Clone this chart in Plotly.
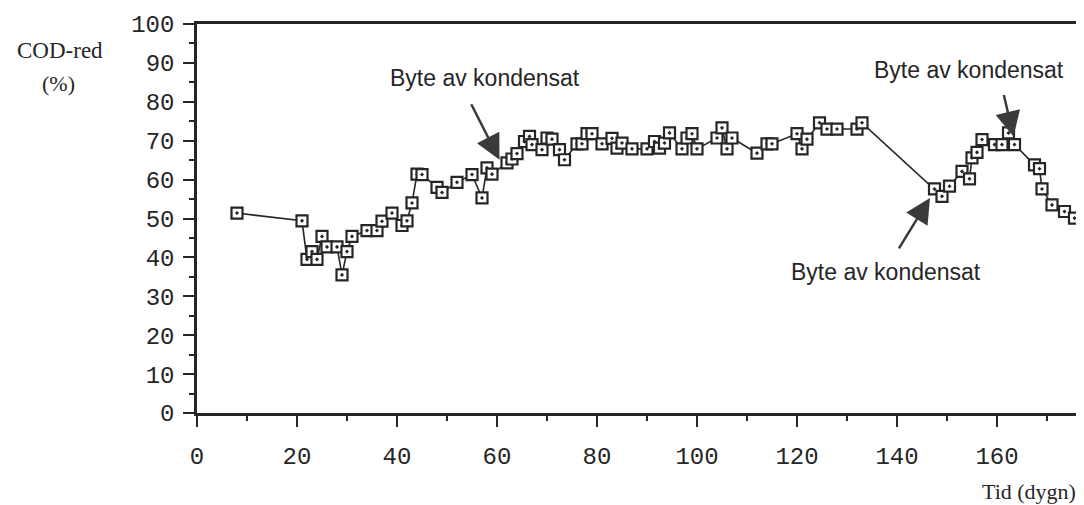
import plotly.graph_objects as go

# Data
days = [8, 21, 22, 23, 24, 25, 26, 28, 29, 30, 31, 34, 36, 37, 39, 41, 42, 43, 44, 45,
        48, 49, 52, 55, 57, 58, 59, 62, 63, 64, 65.5, 66.5, 67, 69, 70, 71, 72.5, 73.5,
        76, 77, 78, 79, 81, 83, 84, 85, 87, 90, 91.5, 92.5, 93.5, 94.5, 97, 98, 99, 100,
        104, 105, 106, 107, 112, 114, 115, 120, 121, 122, 124.5, 126, 128, 132, 133,
        147.5, 149, 150.5, 153, 154.5, 155, 156, 157, 159.5, 161, 162.3, 163.5,
        167.5, 168.5, 169, 171, 173.5, 175.5]
cod_red = [51.4, 49.4, 39.5, 41.5, 39.5, 45.4, 42.7, 42.7, 35.5, 41.5, 45.4, 46.9, 46.9, 49.3,
           51.4, 48.2, 49.4, 54, 61.4, 61.3, 58, 56.7, 59.3, 61.3, 55.3, 63, 61.4, 64.3, 65.3,
           66.7, 69.8, 71.1, 69, 67.7, 70.7, 70.4, 67.7, 65.1, 69.2, 69.2, 71.8, 71.8, 69.2,
           70.6, 68.1, 69.4, 67.9, 67.9, 69.8, 68.1, 69.4, 72, 67.9, 70.7, 71.8, 67.9, 70.7,
           73.3, 67.9, 70.7, 66.8, 69.2, 69.2, 71.8, 67.9, 70.4, 74.6, 73, 73, 73, 74.6,
           57.6, 55.7, 58.3, 62.1, 60.2, 65.6, 67, 70.3, 69, 69, 72, 69,
           63.8, 62.8, 57.6, 53.5, 51.8, 50.1]

x_ticks = [0, 20, 40, 60, 80, 100, 120, 140, 160]
y_ticks = [0, 10, 20, 30, 40, 50, 60, 70, 80, 90, 100]

annot_text = "Byte av kondensat"
# (text x, text y) in data units
annot_text_pos = [(57.6, 86.2), (154.4, 88.3), (137.8, 36.3)]
# arrow heads in data units and tail offsets in pixels
arrow_heads = [(60.5, 65.1), (163.3, 71.1), (146.6, 55.3)]
arrow_tails = [(-29, -57), (-10, -43), (-32, 52)]

ink = "#262626"
fig = go.Figure()
fig.add_trace(go.Scatter(
    x=days, y=cod_red, mode="lines+markers",
    line=dict(color=ink, width=1.6),
    marker=dict(symbol="square-dot", size=11, color="white",
                line=dict(color=ink, width=2.2)),
    showlegend=False, cliponaxis=False,
))

annotations = []
for (tx, ty) in annot_text_pos:
    annotations.append(dict(x=tx, y=ty, xref="x", yref="y", text=annot_text,
                            xanchor="center", yanchor="middle",
                            showarrow=False, font=dict(family="Liberation Sans", size=23, color=ink)))
for (hx, hy), (ax, ay) in zip(arrow_heads, arrow_tails):
    annotations.append(dict(x=hx, y=hy, xref="x", yref="y", text="", showarrow=True,
                            ax=ax, ay=ay, arrowhead=2, arrowsize=2.0, arrowwidth=2.5,
                            arrowcolor="#3a3a3a", standoff=0, startstandoff=0))
serif = "Liberation Serif"
annotations += [
    dict(x=-0.1555, y=0.933, xref="paper", yref="paper", text="COD-red", showarrow=False,
         xanchor="center", yanchor="middle", font=dict(family=serif, size=23, color=ink)),
    dict(x=-0.1575, y=0.848, xref="paper", yref="paper", text="(%)", showarrow=False,
         xanchor="center", yanchor="middle", font=dict(family=serif, size=22, color=ink)),
    dict(x=1.0, y=-0.202, xref="paper", yref="paper", text="Tid (dygn)", showarrow=False,
         xanchor="right", yanchor="middle", font=dict(family=serif, size=22, color=ink)),
]

axis_common = dict(showgrid=False, zeroline=False, showline=True, linecolor=ink, linewidth=2.5,
                   mirror=True, ticks="outside", tickcolor=ink, tickwidth=2, ticklen=11,
                   automargin=False,
                   tickfont=dict(family="Liberation Mono", size=24, color=ink))
fig.update_layout(
    width=1084, height=505,
    margin=dict(l=189, r=14, t=16, b=100, autoexpand=False),
    paper_bgcolor="white", plot_bgcolor="white",
    xaxis=dict(range=[0, 176.2], tickvals=x_ticks, ticktext=[str(v) for v in x_ticks],
               ticklabelstandoff=8,
               minor=dict(dtick=10, ticks="outside", ticklen=5, tickwidth=2, tickcolor=ink),
               **axis_common),
    yaxis=dict(range=[0, 100], tickvals=y_ticks, ticktext=[str(v) for v in y_ticks],
               ticklabelstandoff=4,
               minor=dict(dtick=5, ticks="outside", ticklen=5, tickwidth=2, tickcolor=ink),
               **axis_common),
    annotations=annotations,
)
fig.write_html("out.html")
